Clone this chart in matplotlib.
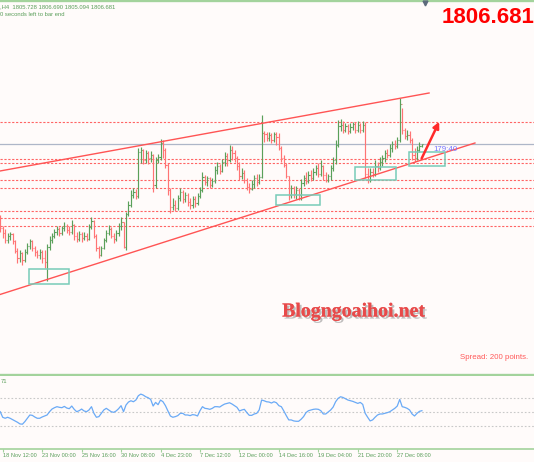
import numpy as np
import matplotlib
matplotlib.use("Agg")
import matplotlib.pyplot as plt
import matplotlib.patheffects as pe
from matplotlib.patches import Rectangle
from matplotlib.transforms import blended_transform_factory

plt.rcParams['font.family'] = ['Liberation Sans', 'DejaVu Sans']

# === Данные (H4, бар -1 .. 170) ===
first_open = 1770.2

close = [
    1764.7, 1762.2, 1758.7, 1760.7, 1761.7, 1758.2, 1753.2, 1749.7, 1752.2, 1748.7,
    1752.7, 1755.7, 1758.2, 1754.7, 1752.7, 1751.2, 1752.7, 1749.7, 1747.7, 1755.2,
    1758.7, 1760.7, 1762.7, 1764.2, 1762.2, 1764.7, 1765.7, 1763.7, 1762.7, 1766.2,
    1760.7, 1759.2, 1761.7, 1759.7, 1760.7, 1759.2, 1765.2, 1768.2, 1760.7, 1754.7,
    1751.2, 1754.7, 1758.7, 1762.2, 1764.2, 1760.7, 1759.2, 1762.2, 1765.7, 1767.7,
    1755.2, 1771.7, 1776.2, 1781.2, 1782.7, 1780.7, 1802.7, 1803.7, 1798.7, 1802.2,
    1799.7, 1801.2, 1786.2, 1798.7, 1800.2, 1807.2, 1803.7, 1796.2, 1783.7, 1775.2,
    1776.2, 1774.7, 1779.7, 1782.7, 1779.2, 1781.2, 1777.7, 1776.2, 1779.2, 1777.2,
    1780.7, 1783.7, 1790.2, 1787.7, 1789.7, 1786.2, 1788.2, 1793.7, 1795.7, 1793.2,
    1797.7, 1800.7, 1798.7, 1803.7, 1802.2, 1799.7, 1795.7, 1790.7, 1792.2, 1788.7,
    1785.2, 1784.2, 1786.7, 1789.7, 1787.7, 1790.2, 1812.2, 1811.7, 1809.7, 1811.2,
    1808.7, 1811.7, 1810.2, 1804.7, 1799.7, 1796.2, 1790.7, 1781.2, 1784.7, 1781.7,
    1783.7, 1781.2, 1787.2, 1789.7, 1788.2, 1791.2, 1789.7, 1792.7, 1794.7, 1791.7,
    1795.7, 1791.2, 1788.7, 1790.7, 1794.7, 1798.7, 1806.2, 1815.7, 1816.2, 1813.7,
    1815.7, 1813.2, 1815.2, 1816.7, 1813.7, 1816.2, 1813.7, 1816.2, 1791.7, 1788.7,
    1792.7, 1791.7, 1795.7, 1794.7, 1797.7, 1799.7, 1802.2, 1801.2, 1804.7, 1806.7,
    1805.7, 1808.7, 1826.7, 1813.7, 1810.7, 1811.2, 1808.7, 1801.2, 1799.7, 1803.7,
    1805.728, 1806.681,
]
high = [
    1771.2, 1765.7, 1764.2, 1762.2, 1762.7, 1762.2, 1758.7, 1754.7, 1753.7, 1752.7,
    1754.2, 1757.2, 1759.2, 1758.7, 1755.7, 1753.7, 1754.2, 1753.7, 1753.7, 1756.7,
    1760.7, 1762.2, 1764.2, 1765.7, 1765.2, 1765.7, 1767.7, 1766.7, 1765.7, 1768.7,
    1766.7, 1762.7, 1763.2, 1762.7, 1762.7, 1762.2, 1766.7, 1770.2, 1768.7, 1761.7,
    1755.7, 1755.7, 1759.7, 1763.7, 1766.2, 1765.2, 1762.2, 1763.7, 1767.2, 1770.2,
    1767.7, 1772.7, 1778.2, 1783.7, 1784.7, 1784.2, 1804.7, 1805.2, 1804.2, 1803.7,
    1803.2, 1803.2, 1801.7, 1800.2, 1801.7, 1809.2, 1808.7, 1804.7, 1797.2, 1784.7,
    1779.7, 1778.7, 1781.2, 1784.7, 1783.7, 1782.7, 1782.2, 1779.7, 1780.7, 1780.7,
    1782.2, 1785.2, 1792.7, 1791.2, 1790.7, 1790.2, 1789.7, 1795.7, 1797.7, 1796.7,
    1799.2, 1802.7, 1802.2, 1806.2, 1805.7, 1803.7, 1800.7, 1797.7, 1794.7, 1793.7,
    1789.7, 1787.2, 1788.7, 1791.2, 1791.7, 1791.7, 1821.2, 1813.2, 1812.7, 1812.7,
    1812.2, 1812.7, 1812.7, 1812.2, 1805.7, 1801.2, 1797.2, 1790.7, 1786.2, 1785.7,
    1785.7, 1784.7, 1789.2, 1791.2, 1792.7, 1793.2, 1793.7, 1794.7, 1796.2, 1797.2,
    1798.7, 1796.2, 1792.7, 1791.7, 1796.2, 1800.2, 1808.7, 1818.7, 1819.2, 1818.2,
    1817.2, 1816.7, 1817.2, 1817.7, 1817.7, 1818.2, 1817.2, 1818.2, 1817.7, 1794.7,
    1794.7, 1794.7, 1798.7, 1797.7, 1800.2, 1801.2, 1803.7, 1804.2, 1806.7, 1808.2,
    1808.7, 1810.2, 1829.7, 1824.7, 1814.7, 1813.7, 1813.2, 1809.7, 1804.7, 1805.7,
    1807.7, 1806.690,
]
low = [
    1762.7, 1759.7, 1757.2, 1757.2, 1758.7, 1756.7, 1752.2, 1747.2, 1747.7, 1746.2,
    1747.7, 1751.7, 1754.2, 1753.2, 1750.7, 1749.7, 1749.2, 1747.2, 1744.7, 1738.2,
    1753.7, 1757.2, 1759.7, 1761.2, 1760.7, 1761.2, 1763.2, 1762.2, 1761.2, 1761.7,
    1758.7, 1757.7, 1758.2, 1757.7, 1758.7, 1758.2, 1758.7, 1764.2, 1759.7, 1753.2,
    1749.7, 1750.7, 1754.2, 1757.7, 1761.2, 1759.7, 1757.2, 1758.2, 1760.7, 1763.7,
    1754.7, 1753.7, 1770.7, 1775.2, 1779.7, 1779.2, 1779.7, 1797.2, 1796.7, 1797.2,
    1796.7, 1797.7, 1782.7, 1784.7, 1797.2, 1798.7, 1799.7, 1794.7, 1781.2, 1772.2,
    1773.7, 1773.2, 1773.7, 1778.2, 1777.2, 1777.7, 1775.7, 1774.2, 1774.7, 1775.2,
    1776.2, 1779.7, 1782.7, 1786.2, 1785.7, 1784.7, 1785.2, 1787.2, 1791.7, 1791.7,
    1792.7, 1795.7, 1795.7, 1797.7, 1798.7, 1797.7, 1793.7, 1788.7, 1789.2, 1787.2,
    1783.7, 1782.2, 1783.7, 1784.7, 1785.7, 1786.7, 1789.7, 1807.7, 1808.2, 1808.2,
    1807.2, 1807.7, 1806.2, 1803.7, 1797.7, 1795.2, 1789.7, 1778.7, 1779.7, 1779.7,
    1779.2, 1778.7, 1778.7, 1785.7, 1786.7, 1787.2, 1788.2, 1788.7, 1791.2, 1790.2,
    1790.7, 1788.7, 1787.7, 1787.7, 1788.7, 1793.2, 1796.7, 1805.2, 1813.2, 1812.2,
    1812.7, 1811.7, 1812.2, 1813.7, 1812.2, 1812.7, 1812.2, 1812.7, 1789.7, 1787.2,
    1787.7, 1790.2, 1790.7, 1792.7, 1793.7, 1795.7, 1797.7, 1799.7, 1800.2, 1802.7,
    1804.2, 1804.7, 1807.7, 1811.7, 1809.2, 1808.7, 1807.2, 1798.7, 1797.7, 1798.7,
    1802.7, 1805.094,
]
rsi = [
    50.4, 42.6, 41.2, 42.6, 41.2, 39.3, 37.5, 35.6, 33.3, 32.9,
    36.6, 41.2, 45.8, 45.3, 43.0, 41.2, 41.2, 43.0, 44.4, 45.8,
    50.4, 54.1, 56.0, 57.4, 56.5, 56.0, 57.8, 55.5, 54.6, 58.3,
    53.7, 50.4, 51.8, 54.1, 51.4, 50.4, 52.8, 57.4, 48.1, 42.6,
    43.5, 48.1, 52.8, 55.1, 52.8, 50.4, 49.5, 51.4, 54.6, 58.8,
    50.4, 59.7, 63.9, 65.7, 64.3, 66.7, 72.7, 75.0, 73.6, 71.3,
    69.9, 67.6, 58.3, 63.4, 60.2, 66.7, 64.3, 58.8, 51.4, 44.4,
    42.6, 43.5, 44.9, 48.1, 48.1, 45.8, 45.8, 44.9, 46.3, 45.8,
    44.4, 51.8, 57.4, 55.1, 54.6, 53.7, 55.1, 57.4, 57.4, 56.9,
    59.2, 61.1, 62.0, 62.9, 61.1, 58.8, 56.5, 51.4, 52.8, 53.7,
    49.1, 45.3, 45.3, 47.2, 48.1, 52.8, 66.7, 65.7, 64.3, 63.9,
    62.5, 64.3, 62.9, 58.8, 57.4, 51.4, 44.9, 38.9, 38.9, 37.5,
    37.0, 37.0, 39.8, 43.5, 49.1, 51.8, 52.8, 53.7, 54.1, 53.7,
    51.8, 47.2, 47.2, 50.0, 52.8, 56.9, 64.3, 69.0, 71.3, 70.3,
    68.5, 66.7, 65.7, 64.8, 63.4, 62.0, 63.4, 60.6, 48.1, 42.6,
    37.5, 38.9, 42.6, 45.8, 47.2, 47.2, 48.1, 49.1, 50.4, 52.8,
    55.1, 58.3, 67.6, 57.4, 56.5, 55.1, 52.8, 47.2, 44.4, 48.1,
    50.9, 51.8,
]
bars = np.arange(-1, len(close) - 1)

# уровни, линии канала, зоны
levels = [1817.7, 1799.2, 1797.45, 1788.7, 1784.7, 1773.2, 1769.7, 1765.7]
bid = 1806.681
upper_line = [(-1.1, 1793.2), (172.9, 1832.2)]
lower_line = [(-1.1, 1731.45), (191.5, 1807.2)]
zones = [(10.7, 26.9, 1736.7, 1744.2),
         (110.8, 128.7, 1776.2, 1781.2),
         (142.9, 159.5, 1788.7, 1795.2),
         (164.8, 179.4, 1795.7, 1802.7)]
arrow_from, arrow_to = (169.9, 1799.5), (177.0, 1817.8)

tick_bars = list(range(0, 161, 16))
tick_labels = ['18 Nov 12:00', '23 Nov 00:00', '25 Nov 16:00', '30 Nov 08:00',
               '4 Dec 23:00', '7 Dec 12:00', '12 Dec 00:00', '14 Dec 16:00',
               '19 Dec 04:00', '21 Dec 20:00', '27 Dec 08:00']
rsi_levels = [30, 50, 70]

# === Цвета ===
BG = '#fffbfa'
UP = '#5aa05a'
DN = '#ff7474'
GRN = '#a3d39c'
TXT_G = '#5a9e5a'

W, H = 534, 462
fig = plt.figure(figsize=(W / 100, H / 100), dpi=100, facecolor=BG)
XL = (-2.7 / 2.466, (W - 2.7) / 2.466)

# --- основное окно ---
main_bot = 374.5
ax = fig.add_axes([0, 1 - main_bot / H, 1, main_bot / H], facecolor=BG)
ax.set_xlim(*XL)
ax.set_ylim(1878.7 - main_bot / 2, 1878.7)
ax.set_xticks([]); ax.set_yticks([])
for s in ['left', 'right']:
    ax.spines[s].set_visible(False)
ax.spines['top'].set_color(GRN); ax.spines['top'].set_linewidth(2.4)
ax.spines['bottom'].set_color(GRN); ax.spines['bottom'].set_linewidth(1.7)

for lv in levels:
    ax.axhline(lv, color='#ff6464', lw=0.8, ls=(0, (2, 1.5)), zorder=1)
ax.axhline(bid, color='#aeb6c8', lw=0.9, zorder=1)

opens = np.array([first_open] + close[:-1])
c = np.array(close); hi = np.array(high); lo = np.array(low)
cols = [UP if cc >= oo else DN for oo, cc in zip(opens, c)]
ax.vlines(bars, lo, hi, colors=cols, lw=0.85, zorder=3)
ax.hlines(opens, bars - 0.45, bars, colors=cols, lw=0.8, zorder=3)
ax.hlines(c, bars, bars + 0.45, colors=cols, lw=0.8, zorder=3)

for ln in (upper_line, lower_line):
    ax.plot([ln[0][0], ln[1][0]], [ln[0][1], ln[1][1]], color='#ff5454', lw=1.0, zorder=4)

for x0, x1, p0, p1 in zones:
    ax.add_patch(Rectangle((x0, p0), x1 - x0, p1 - p0, fill=False,
                           edgecolor='#78ccb8', lw=1.1, zorder=5))

ax.annotate('', xy=arrow_to, xytext=arrow_from,
            arrowprops=dict(arrowstyle='-|>', color='#ff2a2a', lw=1.8,
                            mutation_scale=9, shrinkA=0, shrinkB=0), zorder=6)

ax.text(174.5, 1803.2, '179:40', color='#7474ff', fontsize=5.7, va='baseline', zorder=6)

tr = blended_transform_factory(ax.transData, ax.transAxes)
ax.plot([171.2], [0.993], marker='v', color='#5d6b7c', markersize=3.5,
        transform=tr, clip_on=False, zorder=7)

# --- RSI ---
rax = fig.add_axes([0, (H - 448.6) / H, 1, (448.6 - 375.5) / H], facecolor=BG)
rax.set_xlim(*XL)
rax.set_ylim(-1.2, 101.0)
for s in ['left', 'right', 'top']:
    rax.spines[s].set_visible(False)
rax.spines['bottom'].set_color(GRN); rax.spines['bottom'].set_linewidth(1.2)
for lv in rsi_levels:
    rax.axhline(lv, color='#c8c8c8', lw=0.8, ls=(0, (1.5, 1.8)))
rax.plot(bars, rsi, color='#6aaaf6', lw=0.9)
rax.set_yticks([])
rax.set_xticks(tick_bars, tick_labels, ha='left')
rax.tick_params(axis='x', length=2.3, width=0.8, color=GRN, pad=0.8,
                labelsize=4.1, labelcolor=TXT_G)

# --- подписи ---
fig.text(0, 1 - 8 / H, ',H4  1805.728 1806.690 1805.094 1806.681',
         fontsize=4.2, color=TXT_G, va='baseline')
fig.text(0, 1 - 16 / H, '0 seconds left to bar end',
         fontsize=4.2, color=TXT_G, va='baseline')
fig.text(442 / W, 1 - 23.3 / H, '1806.681', fontsize=16, fontweight='bold',
         color='#ff0000', va='baseline')
fig.text(353.5 / W, 1 - 316.5 / H, 'Blogngoaihoi.net', ha='center', va='baseline',
         family=['Liberation Serif', 'DejaVu Serif'], fontweight='bold',
         fontsize=14.3, color='#e84a4a',
         path_effects=[pe.withSimplePatchShadow(offset=(1.5, -1.5),
                                                shadow_rgbFace='#808080', alpha=0.5),
                       pe.Normal()])
fig.text(459.7 / W, 1 - 359 / H, 'Spread: 200 points.', fontsize=5.7,
         color='#ff5a5a', va='baseline')
fig.text(0.002, 1 - 382.7 / H, '71', fontsize=4.2, color=TXT_G, va='baseline')

fig.savefig('out.png', dpi=100, facecolor=BG)
